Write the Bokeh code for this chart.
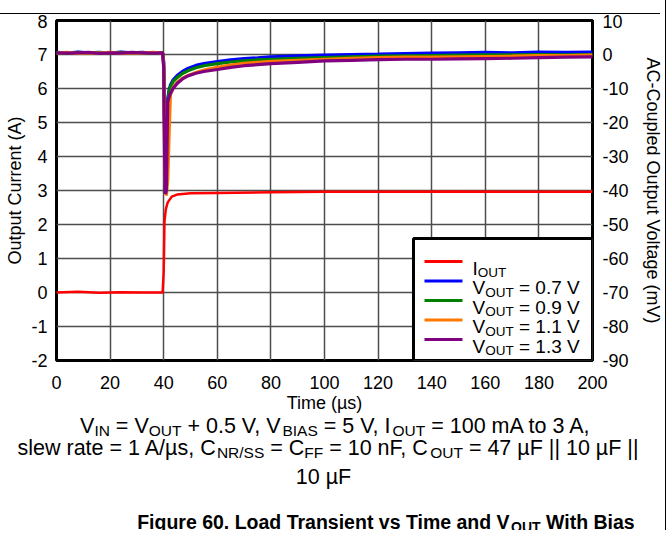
from bokeh.plotting import figure
from bokeh.models import Range1d, LinearAxis, FixedTicker, ColumnDataSource, Div
from bokeh.layouts import column, row
from bokeh.embed import file_html
from bokeh.resources import INLINE
from bokeh.core.properties import value

# ---------------- data ----------------
time_v = [0, 4, 8, 12, 16, 20, 24, 28, 32, 36, 39.6,
          40.0, 40.3, 40.6, 41.0, 41.5, 42.0, 42.5, 43.5, 45, 47, 49, 52, 55, 60, 65,
          70, 75, 80, 90, 100, 110, 120, 130, 140, 150, 160, 170, 180, 190, 200]
vout_07 = [0.6, 0.4, 0.7, 0.5, 0.6, 0.4, 0.7, 0.5, 0.6, 0.4, 0.5,
           -2, -18, -30, -26, -13, -10.5, -9, -7.5, -6.2, -5.0, -4.1, -3.2, -2.7, -2.1, -1.6,
           -1.2, -1.0, -0.7, -0.4, -0.2, 0.0, 0.1, 0.3, 0.4, 0.5, 0.6, 0.5, 0.7, 0.6, 0.7]
vout_09 = [0.5, 0.3, 0.6, 0.4, 0.5, 0.3, 0.6, 0.4, 0.5, 0.3, 0.4,
           -3, -22, -35, -30, -14, -11, -9.5, -8, -6.8, -5.6, -4.8, -3.9, -3.3, -2.7, -2.2,
           -1.9, -1.6, -1.4, -1.1, -0.9, -0.7, -0.5, -0.4, -0.3, -0.2, -0.1, -0.1, 0.0, -0.1, 0.0]
vout_11 = [0.4, 0.6, 0.3, 0.5, 0.4, 0.6, 0.3, 0.5, 0.4, 0.6, 0.4,
           -3, -25, -38, -41.5, -37, -24, -12, -9.8, -8.2, -7.0, -6.2, -5.3, -4.6, -3.8, -3.1,
           -2.6, -2.3, -2.0, -1.7, -1.4, -1.1, -0.9, -0.8, -0.8, -0.7, -0.6, -0.5, -0.3, -0.3, -0.2]
vout_13 = [0.5, 0.4, 0.5, 0.6, 0.3, 0.5, 0.4, 0.6, 0.5, 0.4, 0.5,
           -4, -28, -41, -40, -14, -12.5, -11.5, -10, -8.5, -7.2, -6.3, -5.5, -5.0, -4.4, -3.8,
           -3.3, -3.0, -2.7, -2.3, -1.9, -1.7, -1.5, -1.4, -1.4, -1.3, -1.2, -1.1, -0.9, -0.8, -0.7]

time_i = [0, 8, 16, 24, 32, 39.6, 40.0, 40.3, 40.8, 41.5, 43, 45, 50, 60, 80, 100, 120, 150, 180, 200]
i_out = [0.0, 0.02, -0.01, 0.01, 0.0, 0.0, 0.6, 2.1, 2.45, 2.65, 2.82, 2.88, 2.92, 2.93, 2.95,
         2.96, 2.96, 2.97, 2.96, 2.96]

x_ticks = [0, 20, 40, 60, 80, 100, 120, 140, 160, 180, 200]
current_ticks = [-2, -1, 0, 1, 2, 3, 4, 5, 6, 7, 8]
mv_ticks = [-90, -80, -70, -60, -50, -40, -30, -20, -10, 0, 10]

vout_labels = ["0.7 V", "0.9 V", "1.1 V", "1.3 V"]
vout_colors = ["#0000FF", "#008000", "#FF7800", "#800080"]
iout_color = "#FF0000"

FONT = "Liberation Sans"

# Arial / Liberation Sans advance widths (per 1000 em) for composing subscripts
REG = {' ': 278, '(': 333, ')': 333, '+': 584, ',': 278, '-': 333, '.': 278, '/': 278, '=': 584,
       'A': 667, 'B': 667, 'C': 722, 'F': 611, 'I': 278, 'N': 722, 'O': 778, 'R': 722, 'S': 667,
       'T': 611, 'U': 722, 'V': 667, 'W': 944, 'a': 556, 'd': 556, 'e': 556, 'h': 556, 'i': 222,
       'l': 222, 'm': 833, 'n': 556, 'o': 556, 'p': 556, 'r': 333, 's': 500, 't': 278, 'u': 556,
       'w': 722, '|': 260, 'µ': 576, 'g': 556, 'v': 500}
BOLD = {' ': 278, '.': 278, 'B': 722, 'F': 611, 'L': 611, 'O': 778, 'T': 611, 'U': 722, 'V': 667,
        'W': 944, 'a': 556, 'd': 611, 'e': 556, 'g': 611, 'h': 611, 'i': 278, 'm': 889, 'n': 611,
        'o': 611, 'r': 389, 's': 556, 't': 333, 'u': 611, 'v': 556}


def tw(s, size, bold=False):
    tbl = BOLD if bold else REG
    return sum(tbl.get(c, 556) for c in s) * size / 1000.0


def rich(segs, x0, base, size, sub, drop, bold=False, center=True):
    widths = [tw(t, sub if s else size, bold) for t, s in segs]
    x = x0 - sum(widths) / 2.0 if center else x0
    out = []
    for (t, s), w in zip(segs, widths):
        fs = sub if s else size
        lead = len(t) - len(t.lstrip(' '))
        core = t.strip(' ')
        if core:
            out.append(dict(x=x + tw(' ' * lead, fs, bold), y=base + (drop if s else 0),
                            text=core, size=fs, bold=bold))
        x += w
    return out


def groups(pieces):
    g = {}
    for d in pieces:
        g.setdefault((d["size"], d["bold"]), []).append(d)
    return g


# ---------------- main figure ----------------
FW, FH = 536, 340
ML, MR, MT, MB = 56, 68, 6, 64
X0, X1, Y0, Y1 = 0, 200, -2, 8
PXX = (X1 - X0) / FW      # data units per pixel, x
PXY = (Y1 - Y0) / FH      # data units per pixel, y

p = figure(frame_width=FW, frame_height=FH, x_range=Range1d(X0, X1), y_range=Range1d(Y0, Y1),
           output_backend="svg", toolbar_location=None,
           min_border_left=ML, min_border_right=MR, min_border_top=MT, min_border_bottom=MB,
           background_fill_color="white", border_fill_color="white")
p.extra_y_ranges = {"mv": Range1d(-90, 10)}

p.outline_line_color = "black"
p.outline_line_width = 3
p.outline_line_alpha = 1.0

for g in (p.xgrid[0], p.ygrid[0]):
    g.grid_line_color = "#4d4d4d"
    g.grid_line_width = 1.5
p.xgrid[0].ticker = FixedTicker(ticks=x_ticks)
p.ygrid[0].ticker = FixedTicker(ticks=current_ticks)

p.xaxis.ticker = FixedTicker(ticks=x_ticks)
p.yaxis.ticker = FixedTicker(ticks=current_ticks)
p.yaxis.major_label_overrides = {t: str(t) for t in current_ticks}
p.xaxis.axis_label = "Time (µs)"
p.yaxis.axis_label = "Output Current (A)"

right = LinearAxis(y_range_name="mv", ticker=FixedTicker(ticks=mv_ticks),
                   axis_label="AC-Coupled Output Voltage (mV)",
                   major_label_overrides={t: str(t) for t in mv_ticks})
p.add_layout(right, "right")

for ax in (p.xaxis[0], p.yaxis[0], right):
    ax.axis_line_color = None
    ax.major_tick_in = 0
    ax.major_tick_out = 0
    ax.minor_tick_in = 0
    ax.minor_tick_out = 0
    ax.major_label_text_font = FONT
    ax.major_label_text_font_size = "18px"
    ax.major_label_text_color = "black"
    ax.axis_label_text_font = FONT
    ax.axis_label_text_font_size = "18px"
    ax.axis_label_text_font_style = "normal"
    ax.axis_label_text_color = "black"
p.xaxis.major_label_standoff = 15
p.xaxis.axis_label_standoff = 1
p.yaxis.major_label_standoff = 9
p.yaxis.axis_label_standoff = 3
right.major_label_standoff = 10
right.axis_label_standoff = 11

p.line(time_i, i_out, line_color=iout_color, line_width=2.5)
for vals, col in zip([vout_07, vout_09, vout_11, vout_13], vout_colors):
    p.line(time_v, vals, y_range_name="mv", line_color=col, line_width=3.2)

# ---- legend (box, samples and labels with subscripts), laid out in frame pixels ----
LEG_L, LEG_T = 357, 218          # box left / top, pixels from the frame's left / top
ROW0, ROW_H = 241, 19.5          # first row centre, row pitch (pixels)
SAMP_L, SAMP_R, TXT_L = 368, 406, 416


def dx(px):
    return X0 + px * PXX


def dy(px):
    return Y1 - px * PXY


p.quad(left=[dx(LEG_L)], right=[X1], top=[dy(LEG_T)], bottom=[Y0],
       fill_color="white", line_color="black", line_width=3)
row_colors = [iout_color] + vout_colors
row_y = [dy(ROW0 + ROW_H * i) for i in range(len(row_colors))]
p.segment(x0=[dx(SAMP_L)] * len(row_colors), x1=[dx(SAMP_R)] * len(row_colors),
          y0=row_y, y1=row_y, line_color=row_colors, line_width=3)

leg_rows = [[("I", 0), ("OUT", 1)]] + [[("V", 0), ("OUT", 1), (" = " + lab, 0)] for lab in vout_labels]
leg_pieces = []
for i, segs in enumerate(leg_rows):
    cy = ROW0 + ROW_H * i
    leg_pieces += rich(segs, TXT_L, cy + 6.5, 19, 13.5, 4.5, center=False)
for (fs, bold), items in groups(leg_pieces).items():
    src = ColumnDataSource(dict(x=[dx(d["x"]) for d in items], y=[dy(d["y"]) for d in items],
                                text=[d["text"] for d in items]))
    p.text(x="x", y="y", text="text", source=src, text_font=value(FONT),
           text_font_size=value(f"{fs}px"), text_color="black",
           text_baseline="alphabetic", text_align="left")

# ---------------- caption figure ----------------
CW = ML + FW + MR
CH = 116
cap = figure(width=CW, height=CH, x_range=Range1d(0, CW), y_range=Range1d(CH, 0),
             output_backend="svg", toolbar_location=None, min_border=0,
             x_axis_location=None, y_axis_location=None,
             background_fill_alpha=0, border_fill_alpha=0)
cap.outline_line_color = None
cap.grid.visible = False

line1 = [("V", 0), ("IN", 1), (" = V", 0), ("OUT", 1), (" + 0.5 V, V", 0), ("BIAS", 1),
         (" = 5 V, I", 0), ("OUT", 1), (" = 100 mA to 3 A,", 0)]
line2 = [("slew rate = 1 A/µs, C", 0), ("NR/SS", 1), (" = C", 0), ("FF", 1), (" = 10 nF, C", 0),
         ("OUT", 1), (" = 47 µF || 10 µF ||", 0)]
line3 = [("10 µF", 0)]
title = [("Figure 60. Load Transient vs Time and V", 0), ("OUT", 1), (" With Bias", 0)]

pieces = []
pieces += rich(line1, 335.5, 11, 21.5, 15.5, 5)
pieces += rich(line2, 327.5, 33, 21.5, 15.5, 5)
pieces += rich(line3, 323, 62, 21.5, 15.5, 5)
pieces += rich(title, 385.5, 107, 19.5, 14, 5, bold=True)
for (fs, bold), items in groups(pieces).items():
    src = ColumnDataSource(dict(x=[d["x"] for d in items], y=[d["y"] for d in items],
                                text=[d["text"] for d in items]))
    cap.text(x="x", y="y", text="text", source=src, text_font=value(FONT),
             text_font_size=value(f"{fs}px"), text_font_style="bold" if bold else "normal",
             text_color="black", text_baseline="alphabetic", text_align="left")

top_rule = Div(text="", width=CW, height=1, margin=(13, 0, 0, 0),
               styles={"background-color": "black"})

layout = column(top_rule, p, row(cap, margin=(-10, 0, 0, 0)), spacing=0,
                styles={"border-right": "1px solid black"})

open("out.html", "w").write(file_html(layout, INLINE))
